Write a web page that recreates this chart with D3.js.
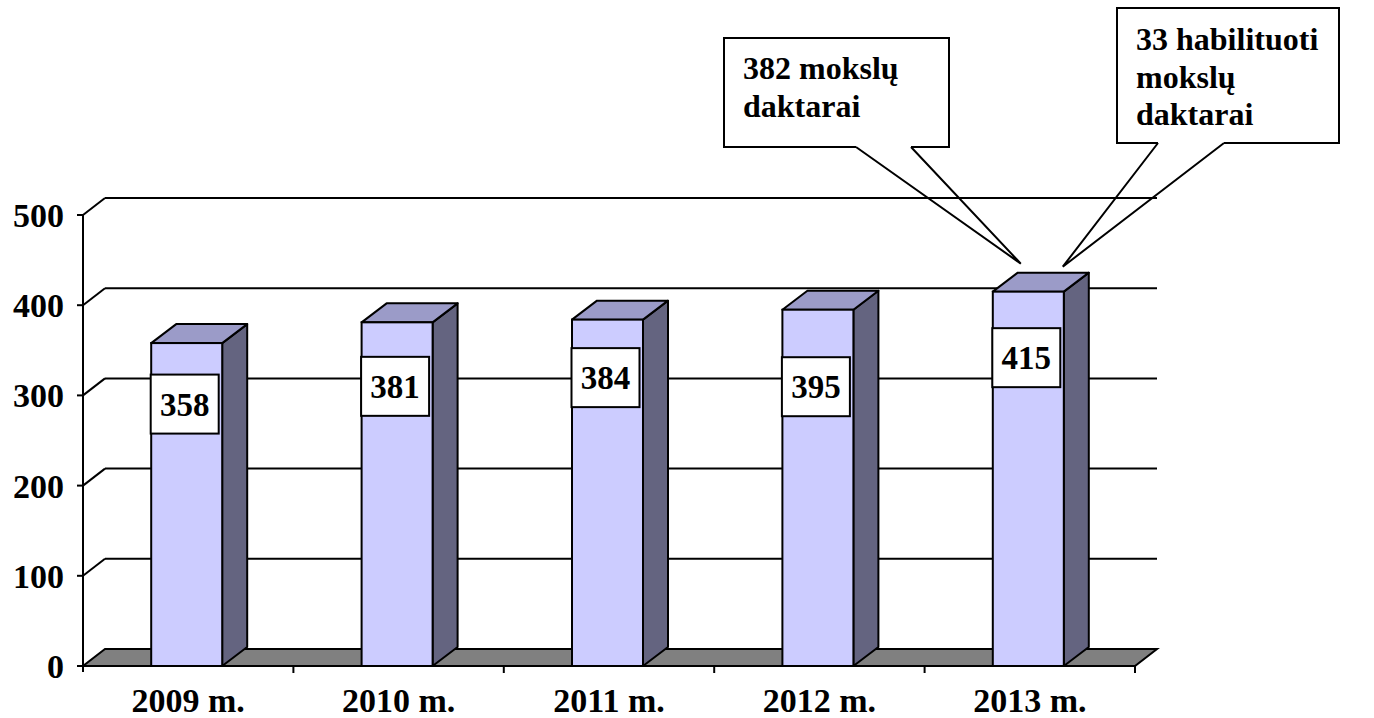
<!DOCTYPE html>
<html><head><meta charset="utf-8">
<script src="https://cdn.jsdelivr.net/npm/d3@7"></script>
<style>html,body{margin:0;padding:0;background:#fff;}svg{display:block;}</style>
</head><body>
<svg id="chart" width="1374" height="718"></svg>
<script>
// ---- data ----
const categories = ["2009 m.", "2010 m.", "2011 m.", "2012 m.", "2013 m."];
const values = [358, 381, 384, 395, 415];
const yTicks = [0, 100, 200, 300, 400, 500];
const callout1Lines = ["382 mokslų", "daktarai"];
const callout2Lines = ["33 habilituoti", "mokslų", "daktarai"];

// ---- layout ----
const labelDy = [61, 64, 58, 77, 66];
const WALL = {dx: 22, dy: -17};
const BAR = {dx: 25, dy: -19, w: 71};
const FONT = "Liberation Serif, Times New Roman, serif";

const svg = d3.select("#chart");
const y = d3.scaleLinear().domain([0, 500]).range([666, 215]);
const x = d3.scaleBand().domain(categories).range([83, 1135]).padding(0);
const x0 = 83, x1 = 1135;

// back wall gridlines + left wall diagonals
yTicks.filter(v => v > 0).forEach(v => {
  svg.append("line").attr("x1", x0 + WALL.dx).attr("x2", x1 + WALL.dx)
    .attr("y1", y(v) + WALL.dy).attr("y2", y(v) + WALL.dy)
    .attr("stroke", "#000").attr("stroke-width", 2);
  svg.append("line").attr("x1", x0).attr("y1", y(v))
    .attr("x2", x0 + WALL.dx).attr("y2", y(v) + WALL.dy)
    .attr("stroke", "#000").attr("stroke-width", 2);
});

// floor
svg.append("path")
  .attr("d", `M${x0},${y(0)} L${x1},${y(0)} L${x1 + WALL.dx},${y(0) + WALL.dy} L${x0 + WALL.dx},${y(0) + WALL.dy} Z`)
  .attr("fill", "#808080").attr("stroke", "#000").attr("stroke-width", 2).attr("stroke-linejoin", "miter");

// y axis
svg.append("line").attr("x1", x0).attr("x2", x0).attr("y1", y(500)).attr("y2", y(0) + 6)
  .attr("stroke", "#000").attr("stroke-width", 2);
yTicks.forEach(v => {
  svg.append("line").attr("x1", x0 - 6).attr("x2", x0).attr("y1", y(v)).attr("y2", y(v))
    .attr("stroke", "#000").attr("stroke-width", 2);
  svg.append("text").attr("x", 64).attr("y", y(v)).attr("dy", "0.35em")
    .attr("text-anchor", "end").style("font-family", FONT).attr("font-weight", "bold")
    .attr("font-size", 34).text(v);
});

// x axis
svg.append("line").attr("x1", x0).attr("x2", x1).attr("y1", y(0)).attr("y2", y(0))
  .attr("stroke", "#000").attr("stroke-width", 2);
categories.forEach((c, i) => {
  const tx = x(c) + x.bandwidth();
  svg.append("line").attr("x1", tx).attr("x2", tx).attr("y1", y(0)).attr("y2", y(0) + 7)
    .attr("stroke", "#000").attr("stroke-width", 2);
  svg.append("text").attr("x", x(c) + x.bandwidth() / 2).attr("y", 712)
    .attr("text-anchor", "middle").style("font-family", FONT).attr("font-weight", "bold")
    .attr("font-size", 34).text(c);
});

// bars
const bx = c => x(c) + (x.bandwidth() - BAR.w) / 2 - 1.5;
values.forEach((v, i) => {
  const c = categories[i];
  const L = bx(c), R = L + BAR.w, T = y(v), B = y(0);
  const g = svg.append("g");
  g.append("path")
    .attr("d", `M${R},${B} L${R + BAR.dx},${B + BAR.dy} L${R + BAR.dx},${T + BAR.dy} L${R},${T} Z`)
    .attr("fill", "#646480").attr("stroke", "#000").attr("stroke-width", 2).attr("stroke-linejoin", "round");
  g.append("path")
    .attr("d", `M${L},${T} L${L + BAR.dx},${T + BAR.dy} L${R + BAR.dx},${T + BAR.dy} L${R},${T} Z`)
    .attr("fill", "#9B9BC8").attr("stroke", "#000").attr("stroke-width", 2).attr("stroke-linejoin", "round");
  g.append("rect").attr("x", L).attr("y", T).attr("width", BAR.w).attr("height", B - T)
    .attr("fill", "#CCCCFF").attr("stroke", "#000").attr("stroke-width", 2);
});

// data labels
values.forEach((v, i) => {
  const c = categories[i];
  const cx = bx(c) + BAR.w / 2 - 2, cy = y(v) + labelDy[i];
  svg.append("rect").attr("x", cx - 34).attr("y", cy - 29.5).attr("width", 68).attr("height", 59)
    .attr("fill", "#fff").attr("stroke", "#000").attr("stroke-width", 2);
  svg.append("text").attr("x", cx).attr("y", cy).attr("dy", "0.35em")
    .attr("text-anchor", "middle").style("font-family", FONT).attr("font-weight", "bold")
    .attr("font-size", 33).text(v);
});

// callouts
const lastL = bx(categories[4]);
const topY = y(values[4]);
function callout(box, tail, tip, lines, lineH) {
  svg.append("rect").attr("x", box.x).attr("y", box.y).attr("width", box.w).attr("height", box.h)
    .attr("fill", "#fff").attr("stroke", "#000").attr("stroke-width", 2);
  svg.append("line").attr("x1", tail[0]).attr("x2", tail[1]).attr("y1", box.y + box.h).attr("y2", box.y + box.h)
    .attr("stroke", "#fff").attr("stroke-width", 3);
  svg.append("path")
    .attr("d", `M${tail[0]},${box.y + box.h} L${tip[0]},${tip[1]} L${tail[1]},${box.y + box.h}`)
    .attr("fill", "none").attr("stroke", "#000").attr("stroke-width", 2).attr("stroke-linejoin", "miter");
  lines.forEach((t, k) => {
    svg.append("text").attr("x", box.x + 19).attr("y", box.firstBase + k * lineH)
      .style("font-family", FONT).attr("font-weight", "bold").attr("font-size", 32).text(t);
  });
}
callout({x: 724, y: 38, w: 225, h: 109, firstBase: 79}, [856, 911], [lastL + 28, topY - 28], callout1Lines, 38);
callout({x: 1117, y: 8, w: 222, h: 135, firstBase: 50}, [1158, 1224], [lastL + 70, topY - 25], callout2Lines, 37.5);
</script>
</body></html>
